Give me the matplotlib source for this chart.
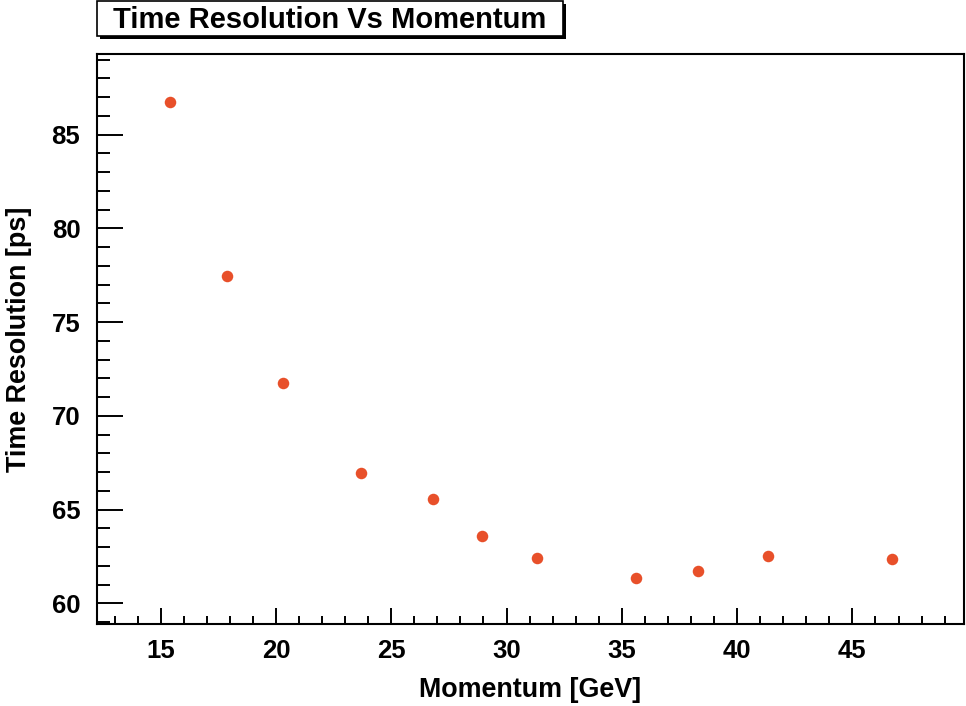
import matplotlib
matplotlib.use("Agg")
import matplotlib.pyplot as plt
from matplotlib.patches import Rectangle
from matplotlib.ticker import MultipleLocator

momentum = [15.39, 17.89, 20.29, 23.70, 26.81, 28.92, 31.32, 35.63, 38.30, 41.34, 46.73]
time_res = [86.73, 77.45, 71.76, 66.94, 65.54, 63.58, 62.40, 61.37, 61.72, 62.51, 62.35]

title = "Time Resolution Vs Momentum"
xlabel = "Momentum [GeV]"
ylabel = "Time Resolution [ps]"

plt.rcParams['font.family'] = ['Liberation Sans', 'DejaVu Sans']
plt.rcParams['font.weight'] = 'bold'

W, H = 966, 706
fig = plt.figure(figsize=(W / 100, H / 100), dpi=100)
fig.patch.set_facecolor('white')

L, R, T, B = 97, 964, 54, 624
ax = fig.add_axes([L / W, (H - B) / H, (R - L) / W, (B - T) / H])

ax.plot(momentum, time_res, 'o', color='#e8502a', markersize=8.3, markeredgewidth=0)

ax.set_xlim(12.24, 49.84)
ax.set_ylim(58.9, 89.3)

ax.xaxis.set_major_locator(MultipleLocator(5))
ax.xaxis.set_minor_locator(MultipleLocator(1))
ax.yaxis.set_major_locator(MultipleLocator(5))
ax.yaxis.set_minor_locator(MultipleLocator(1))

ax.tick_params(axis='both', which='both', direction='in', top=False, right=False,
               width=1.4, color='black')
ax.tick_params(axis='x', which='major', length=11.5, pad=11, labelsize=18.5)
ax.tick_params(axis='x', which='minor', length=5.8)
ax.tick_params(axis='y', which='major', length=18.7, pad=12, labelsize=18.5)
ax.tick_params(axis='y', which='minor', length=9.4)
for lab in ax.get_xticklabels() + ax.get_yticklabels():
    lab.set_fontweight('bold')

for sp in ax.spines.values():
    sp.set_linewidth(1.5)

ax.set_xlabel(xlabel, fontsize=19.4, fontweight='bold', labelpad=10)
ax.set_ylabel(ylabel, fontsize=19.4, fontweight='bold', labelpad=14)

# Title box with shadow
bx0, bx1, by0, by1 = 97, 563, 1, 36
sh = 3
fig.patches.append(Rectangle(((bx0 + sh) / W, (H - by1 - sh) / H), (bx1 - bx0) / W, (by1 - by0) / H,
                             transform=fig.transFigure, facecolor='black', edgecolor='black',
                             linewidth=0, zorder=1))
fig.patches.append(Rectangle((bx0 / W, (H - by1) / H), (bx1 - bx0) / W, (by1 - by0) / H,
                             transform=fig.transFigure, facecolor='white', edgecolor='black',
                             linewidth=1.2, zorder=2))
fig.text((bx0 + bx1) / 2 / W, (H - (by0 + by1) / 2 - 1.5) / H, title, ha='center', va='center',
         fontsize=21, fontweight='bold', zorder=3)

fig.savefig('out.png', dpi=100)
